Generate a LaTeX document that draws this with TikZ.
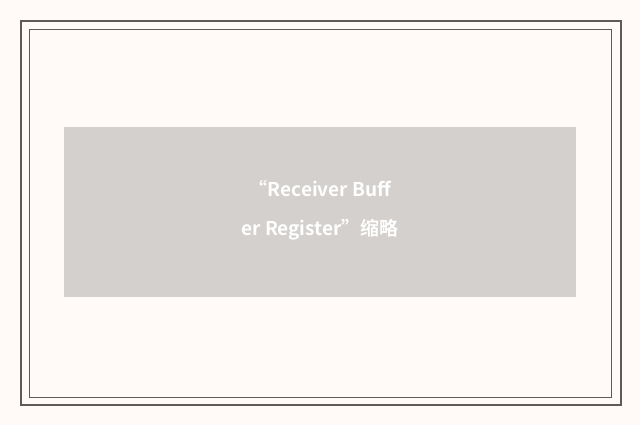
\documentclass[tikz,border=0pt]{standalone}
\usepackage{fontspec}
\newfontfamily\cjk[BoldFont={Noto Sans CJK SC Bold}]{Noto Sans CJK SC}
\definecolor{paper}{RGB}{255,250,247}
\definecolor{frameline}{RGB}{95,90,90}
\definecolor{boxgray}{RGB}{211,208,205}
\begin{document}
\begin{tikzpicture}[
    x=1pt, y=-1pt,
    frame/.style={draw=frameline, line width=1.3pt},
    thinframe/.style={draw=frameline, line width=0.8pt},
    label/.style={text=white, font=\cjk\bfseries\fontsize{19}{39}\selectfont, align=center}
]
% background and borders
\fill[paper] (0,0) rectangle (640,425);
\useasboundingbox (0,0) rectangle (640,425);
\draw[frame] (21,21) rectangle (621,405);
\draw[thinframe] (29,29) rectangle (611,397);

% placeholder box
\fill[boxgray] (64,127) rectangle (576,297);
\node[label] (caption) at (320,210) {“Receiver Buff\\er Register”缩略};
\end{tikzpicture}
\end{document}
